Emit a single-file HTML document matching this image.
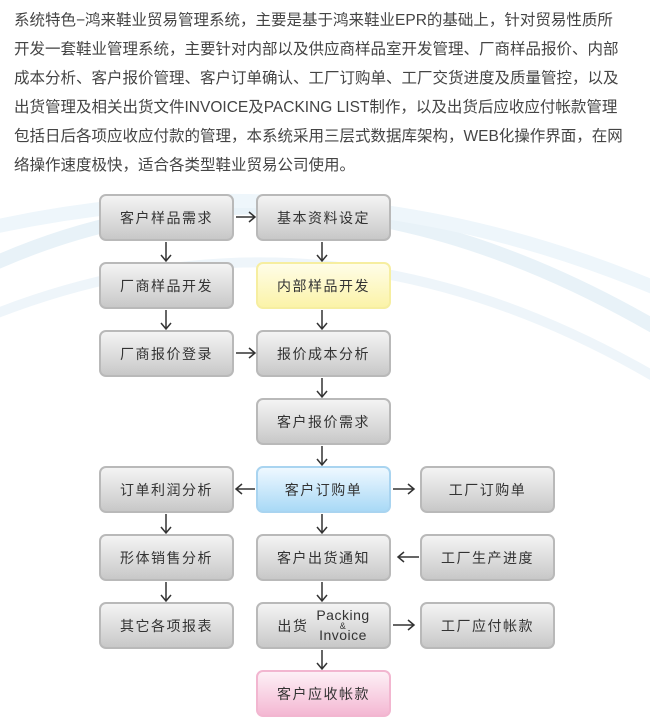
<!DOCTYPE html>
<html><head><meta charset="utf-8"><style>
body{margin:0;width:650px;height:726px;background:#fff;position:relative;overflow:hidden;font-family:"Liberation Sans","Noto Sans CJK SC",sans-serif}
.t{position:absolute;left:14px;top:6px;font-size:15.5px;line-height:29px;color:#444;letter-spacing:0;white-space:nowrap}
.b{position:absolute;width:131px;height:43px;border:2px solid #b9b9b9;border-radius:7px;background:linear-gradient(#f4f4f4,#c8c8c8);display:flex;align-items:center;justify-content:center;font-size:14px;color:#333;letter-spacing:1.5px;box-sizing:content-box}
.y{background:linear-gradient(#fffde8,#fbf3a8);border-color:#f6eea0}
.bl{background:linear-gradient(#eef8ff,#a9d9f6);border-color:#a9d4f0}
.p{background:linear-gradient(#fdf0f6,#f4b8d3);border-color:#f2b6d0}
svg{position:absolute;left:0;top:0}
</style></head><body>
<svg width="650" height="726">
<g fill="none" stroke="#e8f2f8" stroke-width="14">
<path d="M-20 270 Q300 120 660 330"/>
<path d="M-20 230 Q330 150 660 290" stroke="#eef6fb"/>
<path d="M-20 320 Q320 180 660 380" stroke="#eef5fa" stroke-width="10"/>
</g>
</svg>
<div class="t">系统特色−鸿来鞋业贸易管理系统，主要是基于鸿来鞋业EPR的基础上，针对贸易性质所<br>开发一套鞋业管理系统，主要针对内部以及供应商样品室开发管理、厂商样品报价、内部<br>成本分析、客户报价管理、客户订单确认、工厂订购单、工厂交货进度及质量管控，以及<br>出货管理及相关出货文件INVOICE及PACKING LIST制作，以及出货后应收应付帐款管理<br>包括日后各项应收应付款的管理，本系统采用三层式数据库架构，WEB化操作界面，在网<br>络操作速度极快，适合各类型鞋业贸易公司使用。</div>
<div class="b" style="left:99px;top:194px">客户样品需求</div>
<div class="b" style="left:256px;top:194px">基本资料设定</div>
<div class="b" style="left:99px;top:262px">厂商样品开发</div>
<div class="b y" style="left:256px;top:262px">内部样品开发</div>
<div class="b" style="left:99px;top:330px">厂商报价登录</div>
<div class="b" style="left:256px;top:330px">报价成本分析</div>
<div class="b" style="left:256px;top:398px">客户报价需求</div>
<div class="b" style="left:99px;top:466px">订单利润分析</div>
<div class="b bl" style="left:256px;top:466px">客户订购单</div>
<div class="b" style="left:420px;top:466px">工厂订购单</div>
<div class="b" style="left:99px;top:534px">形体销售分析</div>
<div class="b" style="left:256px;top:534px">客户出货通知</div>
<div class="b" style="left:420px;top:534px">工厂生产进度</div>
<div class="b" style="left:99px;top:602px">其它各项报表</div>
<div class="b" style="left:256px;top:602px"><span style="margin-right:8px">出货</span><span style="text-align:center;line-height:9px;font-size:14px;letter-spacing:0.5px">Packing<br><span style="font-size:9px">&amp;</span><br>Invoice</span></div>
<div class="b" style="left:420px;top:602px">工厂应付帐款</div>
<div class="b p" style="left:256px;top:670px">客户应收帐款</div>
<svg width="650" height="726" fill="none" stroke="#333" stroke-width="1.5">
<g>
<path d="M166 242V261M161 255l5 6 5-6"/>
<path d="M166 310V329M161 323l5 6 5-6"/>
<path d="M166 514V533M161 527l5 6 5-6"/>
<path d="M166 582V601M161 595l5 6 5-6"/>
<path d="M322 242V261M317 255l5 6 5-6"/>
<path d="M322 310V329M317 323l5 6 5-6"/>
<path d="M322 378V397M317 391l5 6 5-6"/>
<path d="M322 446V465M317 459l5 6 5-6"/>
<path d="M322 514V533M317 527l5 6 5-6"/>
<path d="M322 582V601M317 595l5 6 5-6"/>
<path d="M322 650V669M317 663l5 6 5-6"/>
<path d="M236 217H255M249 212l6 5-6 5"/>
<path d="M236 353H255M249 348l6 5-6 5"/>
<path d="M255 489H236M242 484l-6 5 6 5"/>
<path d="M393 489H414M408 484l6 5-6 5"/>
<path d="M419 557H398M404 552l-6 5 6 5"/>
<path d="M393 625H414M408 620l6 5-6 5"/>
</g>
</svg>
</body></html>
